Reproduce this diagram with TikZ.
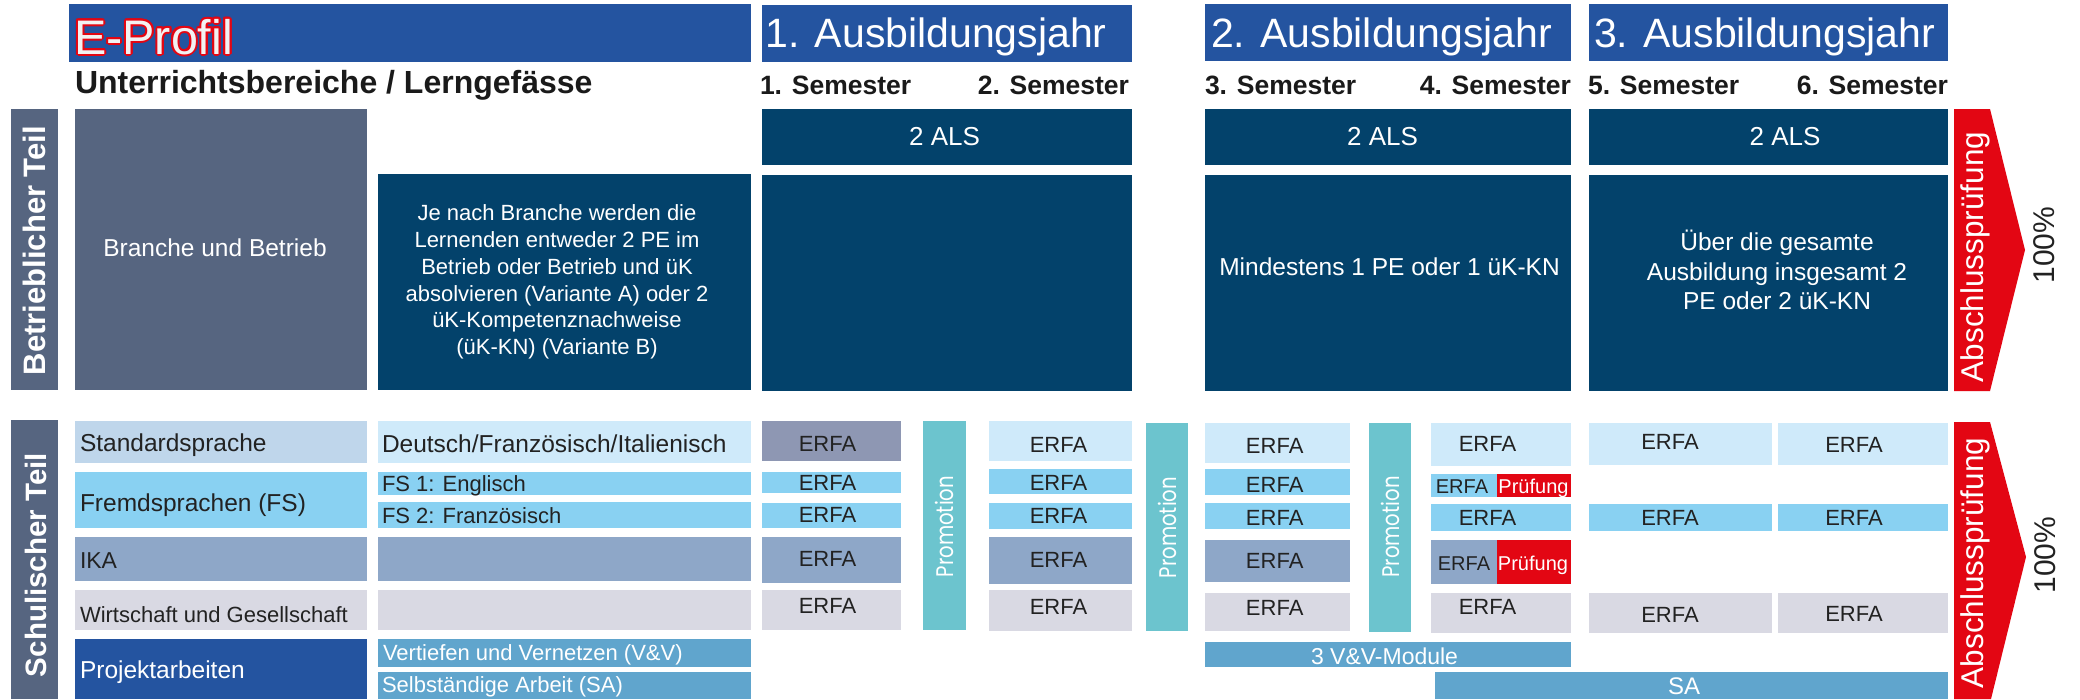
\documentclass[tikz,border=0pt]{standalone}
\usepackage{fontspec}
\setmainfont{Liberation Sans}
\newfontfamily\promofont[FakeStretch=0.82]{Poppins}
\usetikzlibrary{calc}
\definecolor{hdr}{HTML}{2454A0}
\definecolor{side}{HTML}{566580}
\definecolor{dark}{HTML}{03426B}
\definecolor{stdl}{HTML}{BFD6EB}
\definecolor{lite}{HTML}{CFEAFA}
\definecolor{erfag}{HTML}{8E97B3}
\definecolor{fsc}{HTML}{89D1F2}
\definecolor{ikac}{HTML}{8EA7C8}
\definecolor{wugc}{HTML}{D9D9E3}
\definecolor{vvc}{HTML}{60A5CD}
\definecolor{promc}{HTML}{6CC4CE}
\definecolor{redc}{HTML}{E30613}
\definecolor{txtc}{HTML}{222222}
\definecolor{semc}{HTML}{1A1A1A}
\newcommand\fsz[2]{\fontsize{#1}{#2}\selectfont}
% name, x1, y1, x2, y2, style
\newcommand\bx[6]{\node[box,#6,minimum width={(#4-#2)*1pt},minimum height={(#5-#3)*1pt}] (#1) at ({(#2+#4)/2},{(#3+#5)/2}) {};}
\begin{document}
\begin{tikzpicture}[x=1pt,y=-1pt,
  box/.style={rectangle,inner sep=0pt,outer sep=0pt,draw=none},
  tx/.style={inner sep=0pt,outer sep=0pt},
  erfa/.style={tx,text=txtc,font=\fsz{22}{26}},
  lab/.style={tx,anchor=base west,text=txtc,font=\fsz{24.5}{29}},
  labs/.style={tx,anchor=base west,text=txtc,font=\fsz{22}{26}},
  sem/.style={tx,text=semc,font=\bfseries\fsz{26.5}{31}},
  yr/.style={tx,anchor=base west,text=white,font=\fsz{41}{48}},
  als/.style={tx,text=white,font=\fsz{26}{30}},
  promo/.style={tx,rotate=90,text=white,font=\promofont\fsz{24}{28}},
  pruef/.style={tx,anchor=base,text=white,font=\fsz{20}{24}}]
\useasboundingbox (0,0) rectangle (2080,699);
\fill[white] (0,0) rectangle (2080,699);

% ---------- header ----------
\bx{eprof}{69}{4}{751}{62}{fill=hdr}
\bx{yr1}{762}{5}{1132}{62}{fill=hdr}
\bx{yr2}{1205}{4}{1571}{61}{fill=hdr}
\bx{yr3}{1589}{4}{1948}{61}{fill=hdr}
\foreach \a in {0,22.5,...,337.5}
  \node[tx,anchor=base west,text=redc,font=\fsz{48.5}{56},shift={(\a:2)}] at (74,54) {E-Profil};
\node[tx,anchor=base west,text=white!95!black,font=\fsz{48.5}{56}] (teprof) at (74,54) {E-Profil};
\node[yr] (tyr1) at (765.5,47) {1. Ausbildungsjahr};
\node[yr] (tyr2) at (1211,47) {2. Ausbildungsjahr};
\node[yr] (tyr3) at (1594,47) {3. Ausbildungsjahr};

\node[tx,anchor=base west,text=semc,font=\bfseries\fsz{32}{37}] (tunt) at (75,93) {Unterrichtsbereiche / Lerngefässe};
\node[sem,anchor=base west] (s1) at (760,94) {1. Semester};
\node[sem,anchor=base east] (s2) at (1129,94) {2. Semester};
\node[sem,anchor=base west] (s3) at (1205,94) {3. Semester};
\node[sem,anchor=base east] (s4) at (1571,94) {4. Semester};
\node[sem,anchor=base west] (s5) at (1588,94) {5. Semester};
\node[sem,anchor=base east] (s6) at (1948,94) {6. Semester};

% ---------- Betrieblicher Teil ----------
\bx{bt}{11}{109}{58}{390}{fill=side}
\node[tx,rotate=90,text=white,font=\bfseries\fsz{31}{36}] (tbt) at (34.5,250.5) {Betrieblicher Teil};
\bx{branche}{75}{109}{367}{390}{fill=side}
\node[tx,text=white,font=\fsz{24.5}{29}] (tbranche) at (215,248) {Branche und Betrieb};
\bx{jenach}{378}{174}{751}{390}{fill=dark}
\node[tx,text=white,align=center,font=\fsz{22}{26.7}] (tjenach) at (557,282)
  {Je nach Branche werden die\\Lernenden entweder 2 PE im\\Betrieb oder Betrieb und üK\\absolvieren (Variante A) oder 2\\üK-Kompetenznachweise\\(üK-KN) (Variante B)};
\bx{als1}{762}{109}{1132}{165}{fill=dark}
\bx{als2}{1205}{109}{1571}{165}{fill=dark}
\bx{als3}{1589}{109}{1948}{165}{fill=dark}
\node[als] (tals1) at (944.5,137) {2 ALS};
\node[als] (tals2) at (1382.5,137) {2 ALS};
\node[als] (tals3) at (1785,137) {2 ALS};
\bx{big1}{762}{175}{1132}{391}{fill=dark}
\bx{big2}{1205}{175}{1571}{391}{fill=dark}
\bx{big3}{1589}{175}{1948}{391}{fill=dark}
\node[tx,text=white,font=\fsz{24.5}{29}] (tbig2) at (1389.5,267) {Mindestens 1 PE oder 1 üK-KN};
\node[tx,text=white,align=center,font=\fsz{24.5}{29.5}] (tbig3) at (1777,270)
  {Über die gesamte\\Ausbildung insgesamt 2\\PE oder 2 üK-KN};
\fill[redc] (1954,109) -- (1990,109) -- (2025,250) -- (1990,391) -- (1954,391) -- cycle;
\node[tx,rotate=90,text=white,font=\fsz{31.5}{36}] (tab1) at (1975,257) {Abschlussprüfung};
\node[tx,rotate=90,text=txtc,font=\fsz{30}{34}] (tpct1) at (2044,245) {100\%};

% ---------- Schulischer Teil ----------
\bx{st}{11}{420}{58}{699}{fill=side}
\node[tx,rotate=90,text=white,font=\bfseries\fsz{29.5}{34}] (tst) at (36,565) {Schulischer Teil};
\bx{std}{75}{421}{367}{463}{fill=stdl}
\bx{deu}{378}{421}{751}{463}{fill=lite}
\bx{fs}{75}{472}{367}{528}{fill=fsc}
\bx{fs1}{378}{472}{751}{495}{fill=fsc}
\bx{fs2}{378}{502}{751}{528}{fill=fsc}
\bx{ika}{75}{537}{367}{581}{fill=ikac}
\bx{ikar}{378}{537}{751}{581}{fill=ikac}
\bx{wug}{75}{590}{367}{630}{fill=wugc}
\bx{wugr}{378}{590}{751}{630}{fill=wugc}
\bx{proj}{75}{639}{367}{699}{fill=hdr}
\bx{vv}{378}{639}{751}{667}{fill=vvc}
\bx{sa}{378}{672}{751}{699}{fill=vvc}
\node[lab] (tstd) at (80,451) {Standardsprache};
\node[lab] (tdeu) at (382,452) {Deutsch/Französisch/Italienisch};
\node[lab] (tfs) at (80,511) {Fremdsprachen (FS)};
\node[labs] (tfs1) at (382,491) {FS 1: Englisch};
\node[labs] (tfs2) at (382,523) {FS 2: Französisch};
\node[labs,font=\fsz{23}{27}] (tika) at (80,568) {IKA};
\node[labs] (twug) at (80,622) {Wirtschaft und Gesellschaft};
\node[lab,text=white] (tproj) at (80,678) {Projektarbeiten};
\node[labs,text=white] (tvv) at (383,660) {Vertiefen und Vernetzen (V\&V)};
\node[labs,text=white] (tsa) at (382,692) {Selbständige Arbeit (SA)};

% Semester 1
\bx{a1}{762}{421}{901}{461}{fill=erfag}
\bx{b1}{762}{472}{901}{493}{fill=fsc}
\bx{c1}{762}{503}{901}{528}{fill=fsc}
\bx{d1}{762}{537}{901}{583}{fill=ikac}
\bx{e1}{762}{590}{901}{630}{fill=wugc}
\node[erfa] (ta1) at (827.5,443.5) {ERFA};
\node[erfa] (tb1) at (827.5,482.5) {ERFA};
\node[erfa] (tc1) at (827.5,515) {ERFA};
\node[erfa] (td1) at (827.5,559) {ERFA};
\node[erfa] (te1) at (827.5,606) {ERFA};
\bx{p1}{923}{421}{966}{630}{fill=promc}
\node[promo] (tp1) at (944.5,526.5) {Promotion};
% Semester 2
\bx{a2}{989}{421}{1132}{461}{fill=lite}
\bx{b2}{989}{469}{1132}{494}{fill=fsc}
\bx{c2}{989}{503}{1132}{529}{fill=fsc}
\bx{d2}{989}{537}{1132}{584}{fill=ikac}
\bx{e2}{989}{590}{1132}{631}{fill=wugc}
\node[erfa] (ta2) at (1058.5,444.5) {ERFA};
\node[erfa] (tb2) at (1058.5,483) {ERFA};
\node[erfa] (tc2) at (1058.5,516) {ERFA};
\node[erfa] (td2) at (1058.5,560) {ERFA};
\node[erfa] (te2) at (1058.5,606.5) {ERFA};
\bx{p2}{1146}{423}{1188}{631}{fill=promc}
\node[promo] (tp2) at (1167,527.5) {Promotion};
% Semester 3
\bx{a3}{1205}{423}{1350}{463}{fill=lite}
\bx{b3}{1205}{469}{1350}{495}{fill=fsc}
\bx{c3}{1205}{503}{1350}{529}{fill=fsc}
\bx{d3}{1205}{540}{1350}{582}{fill=ikac}
\bx{e3}{1205}{593}{1350}{631}{fill=wugc}
\node[erfa] (ta3) at (1274.7,446) {ERFA};
\node[erfa] (tb3) at (1274.7,484.5) {ERFA};
\node[erfa] (tc3) at (1274.7,518) {ERFA};
\node[erfa] (td3) at (1274.7,561) {ERFA};
\node[erfa] (te3) at (1274.7,608) {ERFA};
\bx{p3}{1369}{423}{1411}{632}{fill=promc}
\node[promo] (tp3) at (1390,527) {Promotion};
% Semester 4
\bx{a4}{1431}{423}{1571}{466}{fill=lite}
\bx{b4}{1431}{474}{1497}{497}{fill=fsc}
\bx{b4p}{1497}{474}{1571}{497}{fill=redc}
\bx{c4}{1431}{504}{1571}{531}{fill=fsc}
\bx{d4}{1431}{540}{1497}{584}{fill=ikac}
\bx{d4p}{1497}{540}{1571}{584}{fill=redc}
\bx{e4}{1431}{593}{1571}{633}{fill=wugc}
\node[erfa] (ta4) at (1487.5,444) {ERFA};
\node[tx,anchor=base,text=txtc,font=\fsz{20}{24}] (tb4) at (1462,493) {ERFA};
\node[pruef] (tb4p) at (1533.5,493) {Prüfung};
\node[erfa] (tc4) at (1487.5,517.5) {ERFA};
\node[tx,anchor=base,text=txtc,font=\fsz{20}{24}] (td4) at (1464,570) {ERFA};
\node[pruef] (td4p) at (1533,570) {Prüfung};
\node[erfa] (te4) at (1487.5,607) {ERFA};
% Semester 5
\bx{a5}{1589}{423}{1772}{465}{fill=lite}
\bx{c5}{1589}{504}{1772}{531}{fill=fsc}
\bx{e5}{1589}{593}{1772}{633}{fill=wugc}
\node[erfa] (ta5) at (1670,442) {ERFA};
\node[erfa] (tc5) at (1670,518) {ERFA};
\node[erfa] (te5) at (1670,614.5) {ERFA};
% Semester 6
\bx{a6}{1778}{423}{1948}{465}{fill=lite}
\bx{c6}{1778}{504}{1948}{531}{fill=fsc}
\bx{e6}{1778}{593}{1948}{633}{fill=wugc}
\node[erfa] (ta6) at (1854,445) {ERFA};
\node[erfa] (tc6) at (1854,518) {ERFA};
\node[erfa] (te6) at (1854,614) {ERFA};
% bottom bars
\bx{vvm}{1205}{642}{1571}{667}{fill=vvc}
\node[tx,anchor=base,text=white,font=\fsz{23}{27}] (tvvm) at (1384.5,664) {3 V\&V-Module};
\bx{sab}{1435}{672}{1948}{699}{fill=vvc}
\node[tx,anchor=base,text=white,font=\fsz{24}{28}] (tsab) at (1684,694) {SA};
% final exam arrow (school part)
\fill[redc] (1954,422) -- (1990,422) -- (2026,557) -- (1991,699) -- (1954,699) -- cycle;
\node[tx,rotate=90,text=white,font=\fsz{31.5}{36}] (tab2) at (1975,563) {Abschlussprüfung};
\node[tx,rotate=90,text=txtc,font=\fsz{30}{34}] (tpct2) at (2045.5,555) {100\%};
\end{tikzpicture}
\end{document}
